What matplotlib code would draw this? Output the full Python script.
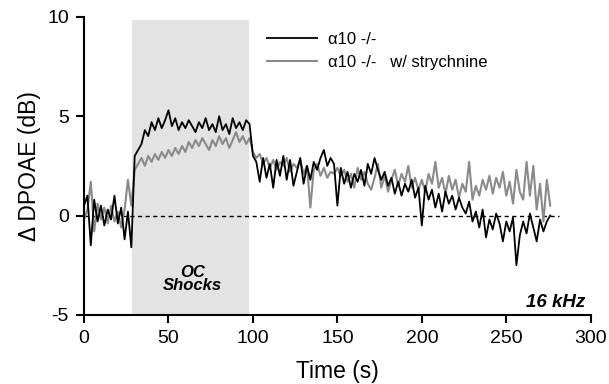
import numpy as np
import matplotlib
matplotlib.use("Agg")
from matplotlib import pyplot as plt

plt.rcParams['font.family'] = ['Liberation Sans', 'DejaVu Sans']
plt.rcParams['axes.unicode_minus'] = False

# time axis, one reading every 2 s
t = np.arange(0, 278, 2)

# alpha10 -/- (black)
ko = [0.5, 1.0, -1.5, 0.8, -0.3, 0.5, -0.5, 0.3, -0.2, 1.0,
      -0.4, 0.4, -1.2, 0.2, -1.6, 3.0, 3.3, 3.6, 4.3, 4.0,
      4.7, 4.3, 4.9, 4.4, 4.8, 5.3, 4.5, 4.9, 4.3, 4.7,
      4.4, 4.8, 4.5, 4.2, 4.7, 4.4, 4.9, 4.3, 4.6, 4.2,
      5.0, 4.3, 4.6, 4.1, 4.9, 4.4, 4.7, 4.3, 4.8, 4.6,
      3.0, 2.7, 1.7, 2.9, 1.9, 2.6, 1.4, 2.8, 2.0, 3.0,
      1.8, 2.8, 1.5, 2.2, 2.9, 1.6, 2.5, 1.8, 2.7, 2.3,
      2.9, 3.3, 2.5, 2.9, 2.6, 0.5, 2.4, 1.6, 2.2, 1.4,
      2.1, 1.7, 2.3, 1.5, 2.6, 2.1, 2.9, 2.3, 1.8, 2.2,
      1.5, 1.9, 1.1, 1.7, 1.0, 1.6, 1.2, 1.8, 0.9, 1.4,
      -0.5, 1.5, 0.8, 1.3, 0.4, 1.1, 0.2, 1.2, 0.6, 1.0,
      0.3, 0.9, 0.4, 0.1, 0.7, -0.3, 0.2, -0.6, 0.3, -1.1,
      -0.2, -0.7, 0.1, -0.4, -1.3, -0.3, -0.8, -0.1, -2.5, -1.0,
      -0.3, -0.9, 0.1, -0.6, -1.3, -0.2, -0.8, -0.3, 0.0]

# alpha10 -/- with strychnine (grey)
stry = [-0.2, 0.3, 1.7, -0.8, 0.6, -0.2, 0.4, -0.4, 0.5, -0.3,
        0.2, -0.6, 0.3, 1.8, 0.5, 2.3, 2.6, 2.9, 2.5, 3.0,
        2.7, 3.1, 2.8, 3.2, 2.9, 3.3, 3.0, 3.4, 3.1, 3.5,
        3.2, 3.7, 3.4, 3.8, 3.5, 3.9, 3.6, 3.3, 3.8, 3.5,
        4.0, 3.6, 3.9, 3.4, 3.8, 4.2, 3.7, 4.0, 3.6, 3.9,
        3.2, 2.9, 3.1, 2.6, 2.9, 2.4, 2.8, 2.3, 2.7, 2.5,
        2.9, 2.2, 2.6, 2.4, 2.8, 2.1, 2.5, 0.4, 2.3, 2.6,
        2.0, 2.4, 1.9, 2.2, 2.1, 2.4, 2.0, 2.3, 1.7, 2.1,
        1.4, 2.4, 1.8, 2.2, 1.6, 1.3, 1.9, 2.6, 1.4, 2.0,
        1.2, 1.8, 2.3, 1.5, 2.1, 1.7, 2.5, 1.4, 1.9, 1.3,
        1.8, 1.2, 2.1, 1.6, 2.7, 1.4, 1.9, 1.1, 2.0, 1.3,
        1.8, 0.9, 1.6, 1.2, 2.7, 0.8, 1.5, 1.0, 1.8, 1.3,
        2.0, 1.1, 1.9, 1.4, 2.2, 1.0, 1.7, 0.6, 2.3, 1.2,
        0.8, 2.7, 1.0, 2.5, 0.3, 1.6, -0.3, 1.8, 0.5]

shock_start, shock_end = 28.5, 97.5

fig = plt.figure(figsize=(6.09, 3.84), dpi=100)
ax = fig.add_axes([0.138, 0.180, 0.832, 0.776])

ax.axvspan(shock_start, shock_end, ymax=0.99, color='#e3e3e3', lw=0, zorder=0)
ax.plot([0, 281], [0, 0], color='black', ls=(0, (3, 2.5)), lw=1.0, zorder=1)
ax.plot(t, stry, color='#8a8a8a', lw=1.5, label=u'\u03b110 -/-   w/ strychnine', zorder=2)
ax.plot(t, ko, color='black', lw=1.3, label=u'\u03b110 -/-', zorder=3)

h, l = ax.get_legend_handles_labels()
ax.legend(h[::-1], l[::-1], loc='upper left', bbox_to_anchor=(0.332, 1.0),
          frameon=False, fontsize=12, handlelength=3.0, handletextpad=0.65,
          labelspacing=0.5)

ax.text(64, -3.2, 'OC\nShocks', ha='center', va='center', fontsize=12,
        fontweight='bold', fontstyle='italic', linespacing=0.85)
ax.text(297, -4.4, '16 kHz', ha='right', va='center', fontsize=13.5,
        fontweight='bold', fontstyle='italic')

ax.set_xlim(0, 300)
ax.set_ylim(-5, 10)
ax.set_xticks([0, 50, 100, 150, 200, 250, 300])
ax.set_yticks([-5, 0, 5, 10])
ax.spines['top'].set_visible(False)
ax.spines['right'].set_visible(False)
ax.spines['left'].set_linewidth(1.5)
ax.spines['bottom'].set_linewidth(1.5)
ax.tick_params(direction='out', length=6, width=1.5, labelsize=14, pad=5)
ax.set_xlabel('Time (s)', fontsize=16.5, labelpad=9)
ax.set_ylabel(u'\u0394 DPOAE (dB)', fontsize=16.5, labelpad=4)

fig.savefig('out.png', dpi=100)
